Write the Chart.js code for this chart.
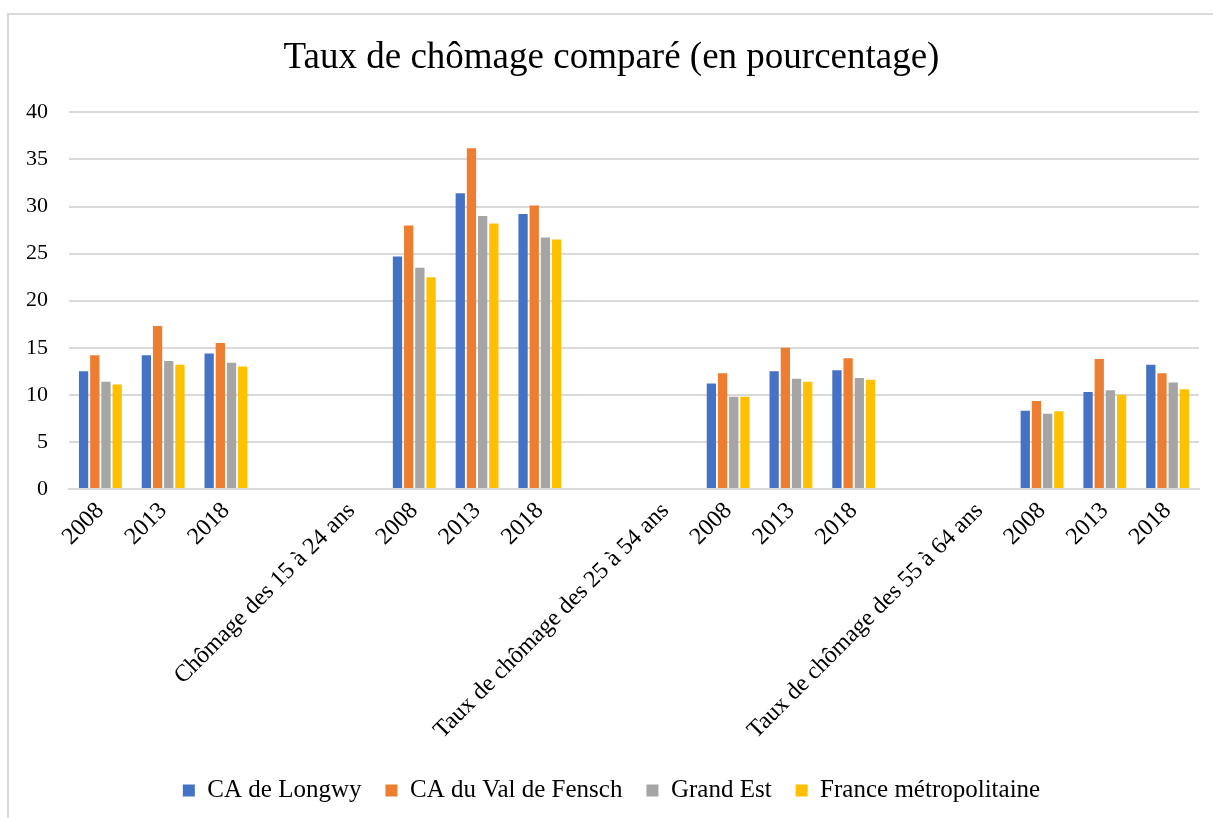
<!DOCTYPE html>
<html>
<head>
<meta charset="utf-8">
<script src="https://cdn.jsdelivr.net/npm/chart.js@4"></script>
<style>
  html, body { margin: 0; padding: 0; background: #fff; }
  #wrap { position: relative; width: 1213px; height: 818px; overflow: hidden; }
  #frame {
    position: absolute; left: 7px; top: 13px; width: 1300px; height: 900px;
    border-left: 2px solid #d9d9d9; border-top: 2px solid #d9d9d9;
  }
  canvas { position: absolute; left: 0; top: 0; }
</style>
</head>
<body>
<div id="wrap">
  <div id="frame"></div>
  <canvas id="chart" width="1213" height="818"></canvas>
</div>
<script>
  'use strict';

  const SERIF = '"Liberation Serif", "DejaVu Serif", serif';

  const categories = [
    '2008', '2013', '2018', '', 'Chômage des 15 à 24 ans',
    '2008', '2013', '2018', '', 'Taux de chômage des 25 à 54 ans',
    '2008', '2013', '2018', '', 'Taux de chômage des 55 à 64 ans',
    '2008', '2013', '2018'
  ];

  const seriesNames = ['CA de Longwy', 'CA du Val de Fensch', 'Grand Est', 'France métropolitaine'];

  const longwy = [12.5, 14.2, 14.4, null, null, 24.7, 31.4, 29.2, null, null, 11.2, 12.5, 12.6, null, null, 8.3, 10.3, 13.2];
  const fensch = [14.2, 17.3, 15.5, null, null, 28.0, 36.2, 30.1, null, null, 12.3, 15.0, 13.9, null, null, 9.35, 13.8, 12.3];
  const grandEst = [11.4, 13.6, 13.4, null, null, 23.5, 29.0, 26.7, null, null, 9.8, 11.7, 11.8, null, null, 8.0, 10.5, 11.3];
  const france = [11.1, 13.2, 13.0, null, null, 22.5, 28.2, 26.5, null, null, 9.8, 11.4, 11.6, null, null, 8.25, 10.0, 10.6];

  const yTicks = [0, 5, 10, 15, 20, 25, 30, 35, 40];

  const COLORS = ['#4472C4', '#ED7D31', '#A5A5A5', '#FFC000'];
  const GRID = '#d9d9d9';

  function makeDataset(i, values) {
    return {
      label: seriesNames[i],
      data: values,
      backgroundColor: COLORS[i],
      borderWidth: 0,
      barPercentage: 0.83,
      categoryPercentage: 0.713
    };
  }

  new Chart(document.getElementById('chart'), {
    type: 'bar',
    data: {
      labels: categories,
      datasets: [
        makeDataset(0, longwy),
        makeDataset(1, fensch),
        makeDataset(2, grandEst),
        makeDataset(3, france)
      ]
    },
    options: {
      responsive: false,
      animation: false,
      layout: { padding: { left: 24, right: 14, top: 0, bottom: 5 } },
      plugins: {
        title: {
          display: true,
          text: 'Taux de chômage comparé (en pourcentage)',
          color: '#000',
          font: { family: SERIF, size: 37, weight: 'normal' },
          padding: { top: 36, bottom: 32 }
        },
        legend: {
          position: 'bottom',
          labels: {
            color: '#000',
            font: { family: SERIF, size: 25 },
            boxWidth: 12,
            boxHeight: 12,
            padding: 24
          }
        },
        tooltip: { enabled: false }
      },
      scales: {
        x: {
          grid: { display: false, drawTicks: false },
          border: { color: GRID, width: 2 },
          ticks: {
            autoSkip: false,
            maxRotation: 45,
            minRotation: 45,
            padding: 8,
            color: '#000',
            font: { family: SERIF, size: 24 }
          },
          afterFit: function (scale) { scale.height = 265; }
        },
        y: {
          min: 0,
          max: 40,
          afterBuildTicks: function (scale) {
            scale.ticks = yTicks.map(function (v) { return { value: v }; });
          },
          grid: { color: GRID, lineWidth: 2, drawTicks: false },
          border: { display: false },
          ticks: {
            padding: 21,
            color: '#000',
            font: { family: SERIF, size: 22 }
          },
          afterFit: function (scale) { scale.width = 45; }
        }
      }
    }
  });
</script>
</body>
</html>
